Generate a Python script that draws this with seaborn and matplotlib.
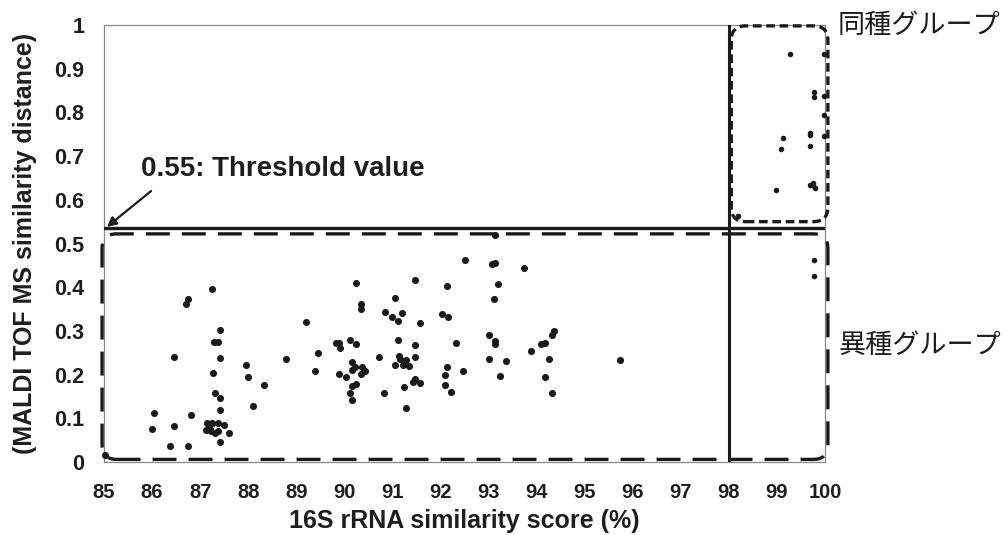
import numpy as np
import pandas as pd
import seaborn as sns
import matplotlib
matplotlib.use("Agg")
import matplotlib.pyplot as plt
from matplotlib.patches import FancyBboxPatch

# 16S rRNA score vs MALDI TOF MS distance
# points with 16S < 98 %
x_diff = [87.25, 86.75, 86.70, 87.42, 87.29, 87.37, 86.45, 87.41, 88.78, 87.95,
          87.27, 88.00, 88.33, 87.30, 87.42, 88.10, 87.41, 86.03, 86.82,
          87.15, 87.25, 87.38, 87.18, 87.13, 87.22, 87.30, 87.38, 87.49, 87.20,
          86.00, 86.45, 87.61, 87.41, 86.37, 86.75, 85.02,
          92.51, 93.08, 93.13, 90.24, 91.48, 92.14, 93.20, 93.11, 91.05, 90.34,
          90.34, 89.21, 90.84, 91.00, 91.21, 91.11, 91.58, 92.03, 92.15, 89.82,
          89.89, 89.91, 90.11, 90.25, 91.11, 91.48, 92.33, 93.01, 93.13, 93.14,
          89.45, 89.39, 90.72, 91.14, 91.15, 91.22, 91.28, 91.34, 91.05, 91.48,
          90.16, 90.15, 90.23, 90.36, 90.44, 90.34, 89.89, 90.03, 90.15, 90.24,
          90.12, 90.16, 90.83, 91.25, 91.42, 91.48, 91.57, 91.28, 92.13, 92.09,
          92.10, 92.22, 92.47, 93.02, 93.23,
          93.13, 93.73, 94.36, 94.33, 94.10, 94.17, 93.89, 93.37, 94.26, 95.74,
          94.17, 94.33]
y_diff = [0.397, 0.373, 0.361, 0.302, 0.275, 0.275, 0.240, 0.238, 0.236, 0.222,
          0.203, 0.195, 0.176, 0.159, 0.146, 0.128, 0.119, 0.113, 0.108,
          0.089, 0.090, 0.090, 0.081, 0.073, 0.071, 0.067, 0.072, 0.085, 0.076,
          0.075, 0.082, 0.067, 0.046, 0.037, 0.037, 0.016,
          0.462, 0.452, 0.455, 0.409, 0.417, 0.403, 0.407, 0.372, 0.376, 0.362,
          0.350, 0.321, 0.343, 0.331, 0.340, 0.323, 0.319, 0.339, 0.331, 0.273,
          0.272, 0.262, 0.279, 0.271, 0.279, 0.267, 0.273, 0.291, 0.276, 0.270,
          0.249, 0.209, 0.241, 0.243, 0.236, 0.223, 0.233, 0.220, 0.222, 0.240,
          0.229, 0.211, 0.217, 0.217, 0.209, 0.201, 0.201, 0.194, 0.175, 0.179,
          0.159, 0.143, 0.157, 0.172, 0.184, 0.189, 0.180, 0.124, 0.217, 0.199,
          0.177, 0.161, 0.209, 0.236, 0.197,
          0.519, 0.444, 0.300, 0.291, 0.270, 0.272, 0.255, 0.230, 0.236, 0.233,
          0.195, 0.159]

# points at 16S >= 98 %
x_same = [99.28, 99.98, 99.77, 99.77, 99.98, 99.98, 99.68, 99.68, 99.98, 99.13,
          99.09, 99.68, 98.98, 99.68, 99.75, 99.79, 99.74, 98.19, 99.77, 99.77]
y_same = [0.934, 0.933, 0.847, 0.835, 0.838, 0.794, 0.754, 0.749, 0.745, 0.742,
          0.717, 0.723, 0.623, 0.635, 0.639, 0.628, 0.633, 0.564, 0.463, 0.426]

x_ticks = list(range(85, 101))
y_ticks = [0, 0.1, 0.2, 0.3, 0.4, 0.5, 0.6, 0.7, 0.8, 0.9, 1]
y_ticklabels = ["0", "0.1", "0.2", "0.3", "0.4", "0.5", "0.6", "0.7", "0.8", "0.9", "1"]

threshold = 0.535
cutoff_16s = 98

sns.set_style("white")
plt.rcParams['font.family'] = ['Liberation Sans', 'Noto Sans CJK JP', 'DejaVu Sans']

fig = plt.figure(figsize=(10.07, 5.35), dpi=100)
ax = fig.add_axes([104 / 1007, 1 - 462 / 535, (825 - 104) / 1007, (462 - 25) / 535])

df_diff = pd.DataFrame({"x": x_diff, "y": y_diff})
df_same = pd.DataFrame({"x": x_same, "y": y_same})
sns.scatterplot(data=df_diff, x="x", y="y", color="#1a1a1a", s=26, linewidth=0,
                ax=ax, clip_on=False, zorder=5)
sns.scatterplot(data=df_same, x="x", y="y", color="#1a1a1a", s=16, linewidth=0,
                ax=ax, clip_on=False, zorder=5)

ax.set_xlim(85, 100)
ax.set_ylim(0, 1)
ax.set_xticks(x_ticks)
ax.set_yticks(y_ticks)
ax.set_yticklabels(y_ticklabels)
ax.tick_params(axis='both', direction='in', length=6, width=0.8, color='#888888')
ax.tick_params(axis='y', pad=14, labelsize=15.5)
ax.tick_params(axis='x', pad=15, labelsize=14.5)
for lab in ax.get_xticklabels() + ax.get_yticklabels():
    lab.set_fontweight('bold')
    lab.set_color('#1e1e1e')
for sp in ax.spines.values():
    sp.set_color('#888888')
    sp.set_linewidth(0.9)

ax.set_xlabel("16S rRNA similarity score (%)", fontsize=18, fontweight='bold',
              color='#1e1e1e')
ax.set_ylabel("(MALDI TOF MS similarity distance)", fontsize=18, fontweight='bold',
              color='#1e1e1e')
ax.xaxis.set_label_coords(0.5, -0.108)
ax.yaxis.set_label_coords(-0.093, 0.5)

# threshold lines
ax.axhline(threshold, color='#1a1a1a', lw=2.4, zorder=3)
ax.axvline(cutoff_16s, color='#1a1a1a', lw=2.2, zorder=3)

# rounded group boxes (aspect corrects for unequal x / y scale)
aspect = (721 / 15) / 437
box_same = FancyBboxPatch((98.05, 0.55), 100.06 - 98.05, 0.998 - 0.55,
                          boxstyle="round,pad=0,rounding_size=0.3",
                          mutation_aspect=aspect, fill=False, ec='#1a1a1a',
                          lw=2.4, ls=(0, (2.6, 1.4)), clip_on=False, zorder=4)
box_diff = FancyBboxPatch((84.96, 0.006), 100.06 - 84.96, 0.522 - 0.006,
                          boxstyle="round,pad=0,rounding_size=0.3",
                          mutation_aspect=aspect, fill=False, ec='#1a1a1a',
                          lw=2.4, ls=(0, (7.2, 3.6)), clip_on=False, zorder=4)
ax.add_patch(box_same)
ax.add_patch(box_diff)

# threshold annotation
ax.text(85.78, 0.670, "0.55: Threshold value", fontsize=20, fontweight='bold',
        color='#1e1e1e', va='center', ha='left')
ax.annotate("", xy=(85.06, threshold + 0.003), xytext=(85.98, 0.620),
            arrowprops=dict(arrowstyle='-|>', color='#1a1a1a', lw=1.6,
                            mutation_scale=14, shrinkA=0, shrinkB=0))

fig.text(838 / 1007, 1 - 26 / 535, "同種グループ", fontsize=19.5, va='center',
         ha='left', color='#1e1e1e')
fig.text(838 / 1007, 1 - 346 / 535, "異種グループ", fontsize=19.5, va='center',
         ha='left', color='#1e1e1e')

fig.savefig("out.png", dpi=100)
